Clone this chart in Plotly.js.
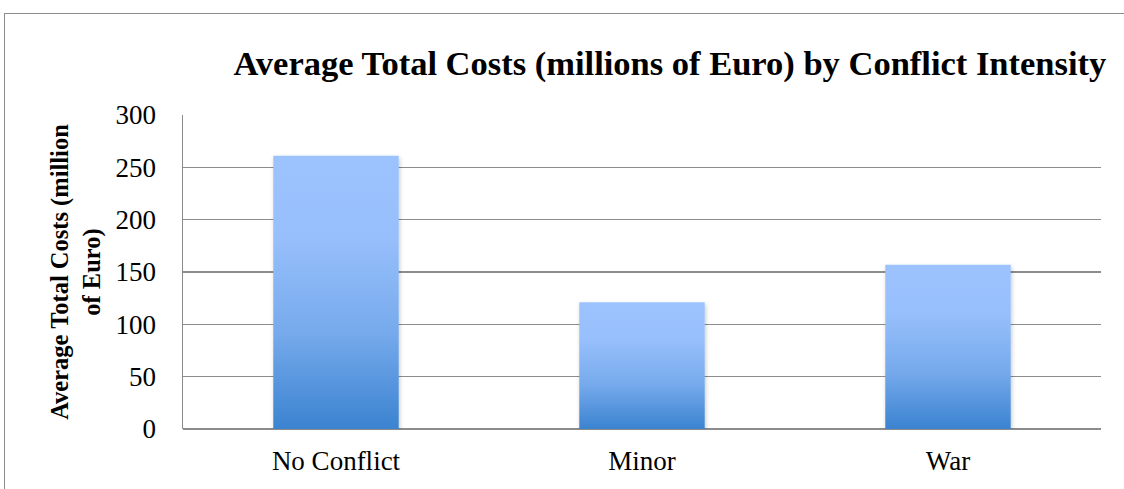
<!DOCTYPE html>
<html>
<head>
<meta charset="utf-8">
<script src="https://cdn.plot.ly/plotly-3.0.1.min.js"></script>
<style>
  body { margin: 0; background: #fff; }
  #plot { width: 1124px; height: 489px; }
  #frame { position: absolute; left: 4px; top: 13px; width: 1200px; height: 600px;
           border-left: 1px solid #8c8c8c; border-top: 1px solid #8c8c8c; pointer-events: none; }
</style>
</head>
<body>
<div id="plot"></div>
<div id="frame"></div>
<script>
const categories = ['No Conflict', 'Minor', 'War'];
const avgCosts = [261, 121, 157];
const tickVals = [0, 50, 100, 150, 200, 250, 300];

const serif = 'Liberation Serif, Times New Roman, serif';

const data = [{
    x: categories,
    y: avgCosts,
    type: 'bar',
    marker: { color: '#7fb0f0', line: { width: 0 } },
    hoverinfo: 'x+y'
}];

const layout = {
    width: 1124,
    height: 489,
    margin: { l: 183, r: 23, t: 115, b: 60 },
    paper_bgcolor: '#fff',
    plot_bgcolor: '#fff',
    bargap: 0.59,
    showlegend: false,
    title: {
        text: '<b>Average Total Costs (millions of Euro) by Conflict Intensity</b>',
        font: { family: serif, size: 34.5, color: '#000' },
        x: 0.596, xanchor: 'center',
        y: 0.871, yanchor: 'middle'
    },
    xaxis: {
        tickfont: { family: serif, size: 27, color: '#000' },
        showline: false,
        ticks: '',
        ticklabelstandoff: 13
    },
    yaxis: {
        range: [0, 300],
        tickvals: tickVals,
        tickfont: { family: serif, size: 27, color: '#000' },
        showgrid: true,
        gridcolor: '#8c8c8c',
        gridwidth: 1.5,
        zeroline: true,
        zerolinecolor: '#8c8c8c',
        zerolinewidth: 1.5,
        showline: true,
        linecolor: '#8c8c8c',
        linewidth: 1.5,
        ticks: '',
        ticklabelstandoff: 20,
        title: {
            text: '<b>Average Total Costs (million<br>of Euro)</b>',
            font: { family: serif, size: 24.5, color: '#000' },
            standoff: 8
        }
    }
};

Plotly.newPlot('plot', data, layout, { displayModeBar: false, staticPlot: true }).then(function (gd) {
    // Excel-style vertical gradient + soft shadow on the bars
    const svgNS = 'http://www.w3.org/2000/svg';
    const svg = gd.querySelector('.main-svg');
    let defs = svg.querySelector('defs');
    if (!defs) {
        defs = document.createElementNS(svgNS, 'defs');
        svg.insertBefore(defs, svg.firstChild);
    }
    const grad = document.createElementNS(svgNS, 'linearGradient');
    grad.setAttribute('id', 'barGrad');
    grad.setAttribute('x1', '0'); grad.setAttribute('y1', '0');
    grad.setAttribute('x2', '0'); grad.setAttribute('y2', '1');
    [['0', '#9dc3fe'], ['0.3', '#97bffb'], ['0.65', '#76aaec'], ['1', '#3b83d0']].forEach(function (s) {
        const stop = document.createElementNS(svgNS, 'stop');
        stop.setAttribute('offset', s[0]);
        stop.setAttribute('stop-color', s[1]);
        grad.appendChild(stop);
    });
    defs.appendChild(grad);

    const filt = document.createElementNS(svgNS, 'filter');
    filt.setAttribute('id', 'barShadow');
    filt.setAttribute('x', '-10%'); filt.setAttribute('y', '-10%');
    filt.setAttribute('width', '120%'); filt.setAttribute('height', '120%');
    const ds = document.createElementNS(svgNS, 'feDropShadow');
    ds.setAttribute('dx', '1'); ds.setAttribute('dy', '2');
    ds.setAttribute('stdDeviation', '2');
    ds.setAttribute('flood-color', '#000');
    ds.setAttribute('flood-opacity', '0.22');
    filt.appendChild(ds);
    defs.appendChild(filt);

    gd.querySelectorAll('.bars .point path').forEach(function (p) {
        p.style.fill = 'url(#barGrad)';
        p.setAttribute('filter', 'url(#barShadow)');
    });
});
</script>
</body>
</html>
